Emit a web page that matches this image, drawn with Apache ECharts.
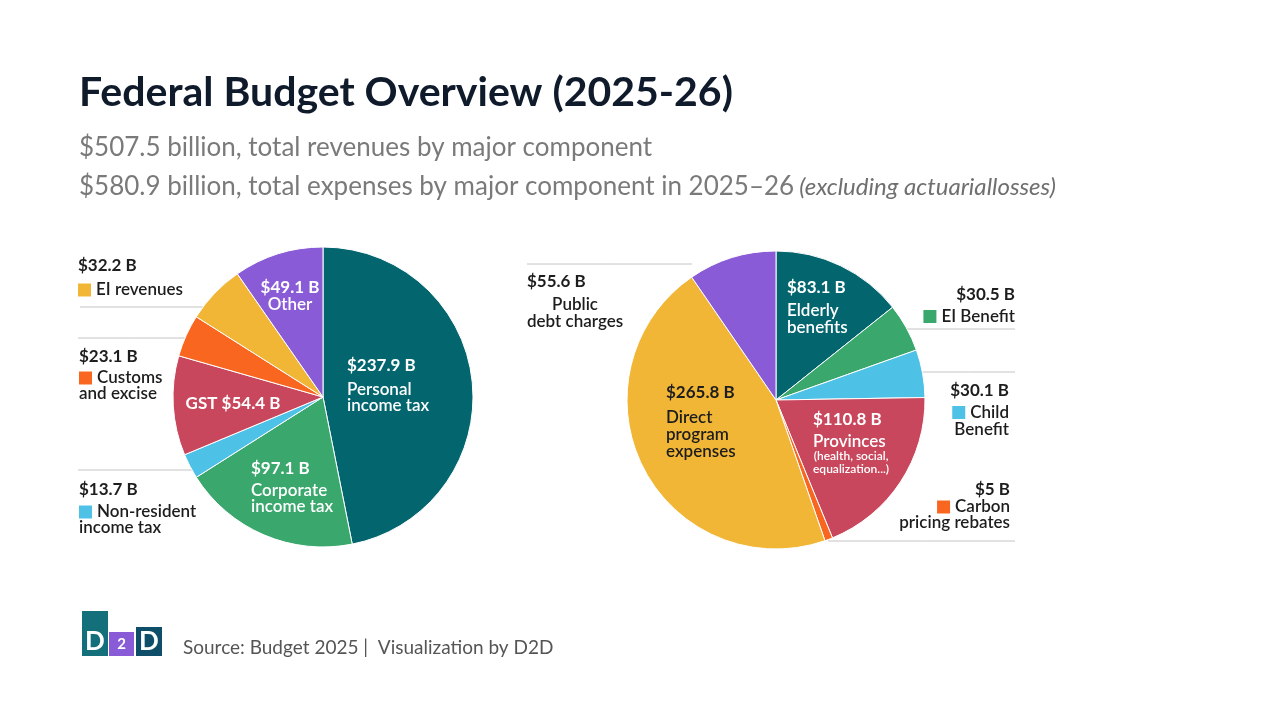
<!DOCTYPE html>
<html>
<head>
<meta charset="utf-8">
<title>Federal Budget Overview (2025-26)</title>
<script src="https://cdn.jsdelivr.net/npm/echarts@6/dist/echarts.min.js"></script>
<style>
  html, body { margin: 0; padding: 0; background: #fff; }
  #chart { width: 1280px; height: 720px; }
</style>
</head>
<body>
<div id="chart"></div>
<script>
// revenues, clockwise from 12 o'clock
var revenueNames = ['Personal\nincome tax', 'Corporate\nincome tax', 'Non-resident\nincome tax', 'GST', 'Customs\nand excise', 'EI revenues', 'Other'];
var revenueValues = [237.9, 97.1, 13.7, 54.4, 23.1, 32.2, 49.1];

// expenses, clockwise from 12 o'clock
var expenseNames = ['Elderly\nbenefits', 'EI Benefit', 'Child\nBenefit', 'Provinces', 'Carbon\npricing rebates', 'Direct\nprogram\nexpenses', 'Public\ndebt charges'];
var expenseValues = [83.1, 30.5, 30.1, 110.8, 5, 265.8, 55.6];
var expenseNotes = ['', '', '', '(health, social,\nequalization...)', '', '', ''];

// same colour order on both pies
var sliceColors = ['#03666f', '#3aa76d', '#4ec1e6', '#c8475c', '#f96620', '#f2b637', '#8a5bd6'];

var FONT = 'Lato, "Open Sans", sans-serif';
var DARK = '#1d1d1d';

// label placement for each slice (top of text block, leader line [x1, x2, y])
var revenueLayout = [
  { x: 347, y: 350, align: 'left', vh: 32, nh: 16, fg: '#fff' },
  { x: 251, y: 455, align: 'left', vh: 28, nh: 16, fg: '#fff' },
  { x: 79, y: 476, align: 'left', vh: 28, nh: 16, fg: DARK, sq: true, line: [192, 78, 470] },
  { x: 233, y: 394, align: 'center', vh: 20, nh: 16, fg: '#fff', oneLine: true },
  { x: 79, y: 344, align: 'left', vh: 26, nh: 16, fg: DARK, sq: true, line: [185, 78, 338] },
  { x: 78, y: 250, align: 'left', vh: 32, nh: 16, fg: DARK, sq: true, line: [203, 80, 307] },
  { x: 290, y: 279, align: 'center', vh: 18, nh: 16, fg: '#fff' }
];
var expenseLayout = [
  { x: 787, y: 273, align: 'left', vh: 29, nh: 17, fg: '#fff' },
  { x: 1015, y: 282, align: 'right', vh: 26, nh: 17, fg: DARK, sq: true, line: [907, 1015, 329] },
  { x: 1009, y: 377, align: 'right', vh: 27, nh: 17, fg: DARK, sq: true, line: [922, 1015, 372] },
  { x: 813, y: 406, align: 'left', vh: 27, nh: 17, fg: '#fff' },
  { x: 1010, y: 481, align: 'right', vh: 18, nh: 16, fg: DARK, sq: true, line: [828, 1015, 541] },
  { x: 666, y: 376, align: 'left', vh: 33, nh: 17, fg: DARK },
  { x: 527, y: 267, align: 'left', vh: 29, nh: 17, fg: DARK, centerFirst: true, line: [692, 527, 264] }
];

function sum(arr) {
  return arr.reduce(function (a, b) { return a + b; }, 0);
}

function buildLabel(name, note, color, spec) {
  var rich = {
    v: { fontFamily: FONT, fontSize: 17, fontWeight: 'bold', color: spec.fg, lineHeight: spec.vh },
    n: { fontFamily: FONT, fontSize: 17, fontWeight: 600, color: spec.fg, lineHeight: spec.nh },
    nc: { fontFamily: FONT, fontSize: 17, fontWeight: 600, color: spec.fg, lineHeight: spec.nh, align: 'center' },
    s: { fontFamily: FONT, fontSize: 12, fontWeight: 600, color: spec.fg, lineHeight: 13, align: 'center' },
    sq: { width: 13, height: 13, backgroundColor: color },
    gap: { width: 5, height: 13 }
  };
  return {
    show: true,
    position: spec.line ? 'outside' : 'inside',
    rich: rich,
    formatter: function (p) {
      var value = '$' + p.value + ' B';
      if (spec.oneLine) {
        return '{v|' + name + ' ' + value + '}';
      }
      var rows = ['{v|' + value + '}'];
      name.split('\n').forEach(function (part, i) {
        if (i === 0 && spec.sq) {
          rows.push('{sq|}{gap|}{n|' + part + '}');
        } else if (i === 0 && spec.centerFirst) {
          rows.push('{nc|' + part + '}');
        } else {
          rows.push('{n|' + part + '}');
        }
      });
      if (note) {
        note.split('\n').forEach(function (part) {
          rows.push('{s|' + part + '}');
        });
      }
      return rows.join('\n');
    }
  };
}

function buildData(names, values, notes, layout) {
  return names.map(function (name, i) {
    return {
      name: name,
      value: values[i],
      itemStyle: { color: sliceColors[i] },
      label: buildLabel(name, notes ? notes[i] : '', sliceColors[i], layout[i]),
      labelLine: { show: !!layout[i].line }
    };
  });
}

function layoutFor(layout) {
  return function (params) {
    var spec = layout[params.dataIndex];
    var out = { x: spec.x, y: spec.y, align: spec.align, verticalAlign: 'top' };
    if (spec.line) {
      var l = spec.line;
      out.labelLinePoints = [[l[0], l[2]], [(l[0] + l[1]) / 2, l[2]], [l[1], l[2]]];
    }
    return out;
  };
}

function pieSeries(center, radius, names, values, notes, layout) {
  return {
    type: 'pie',
    center: center,
    radius: radius,
    startAngle: 90,
    clockwise: true,
    avoidLabelOverlap: false,
    silent: true,
    itemStyle: { borderColor: '#ffffff', borderWidth: 1 },
    labelLine: { show: false, lineStyle: { color: '#c4c4c4', width: 1 } },
    labelLayout: layoutFor(layout),
    data: buildData(names, values, notes, layout)
  };
}

var revenueTotal = sum(revenueValues).toFixed(1);
var expenseTotal = sum(expenseValues).toFixed(1);

var chart = echarts.init(document.getElementById('chart'), null, { renderer: 'canvas' });

var option = {
  backgroundColor: '#ffffff',
  animation: false,
  title: [{
    text: 'Federal Budget Overview (2025-26)',
    left: 79,
    top: 71,
    padding: 0,
    textStyle: { fontFamily: FONT, fontSize: 41, fontWeight: 'bold', color: '#0f1a2b', lineHeight: 44 }
  }, {
    text: '$' + revenueTotal + ' billion, total revenues by major component',
    left: 79,
    top: 133,
    padding: 0,
    textStyle: { fontFamily: FONT, fontSize: 26, fontWeight: 'normal', color: '#7a7a7a', lineHeight: 30 }
  }, {
    text: '{a|$' + expenseTotal + ' billion, total expenses by major component in 2025\u201326} {b|(excluding actuariallosses)}',
    left: 79,
    top: 172,
    padding: 0,
    textStyle: {
      fontWeight: 'normal',
      rich: {
        a: { fontFamily: FONT, fontSize: 26, fontWeight: 'normal', color: '#7a7a7a', lineHeight: 30 },
        b: { fontFamily: FONT, fontSize: 24, fontWeight: 'normal', fontStyle: 'italic', color: '#6f6f6f', lineHeight: 30 }
      }
    }
  }, {
    text: 'Source: Budget 2025 |  Visualization by D2D',
    left: 183,
    top: 637,
    padding: 0,
    textStyle: { fontFamily: FONT, fontSize: 19, fontWeight: 'normal', color: '#555555', lineHeight: 22 }
  }],
  graphic: [{
    type: 'group',
    left: 82,
    top: 611,
    children: [
      { type: 'rect', shape: { x: 0, y: 0, width: 26, height: 45 }, style: { fill: '#13707a' } },
      { type: 'rect', shape: { x: 27, y: 21, width: 25, height: 24 }, style: { fill: '#8a5bd6' } },
      { type: 'rect', shape: { x: 54, y: 16, width: 26, height: 29 }, style: { fill: '#0f4e69' } },
      { type: 'text', x: 13, y: 31, style: { text: 'D', fill: '#fff', font: 'bold 26px ' + FONT, align: 'center', verticalAlign: 'middle' } },
      { type: 'text', x: 39.5, y: 33, style: { text: '2', fill: '#fff', font: 'bold 15px ' + FONT, align: 'center', verticalAlign: 'middle' } },
      { type: 'text', x: 67, y: 31, style: { text: 'D', fill: '#fff', font: 'bold 26px ' + FONT, align: 'center', verticalAlign: 'middle' } }
    ]
  }],
  series: [
    pieSeries([323, 397], 150, revenueNames, revenueValues, null, revenueLayout),
    pieSeries([776, 400], 149, expenseNames, expenseValues, expenseNotes, expenseLayout)
  ]
};

chart.setOption(option);
</script>
</body>
</html>
